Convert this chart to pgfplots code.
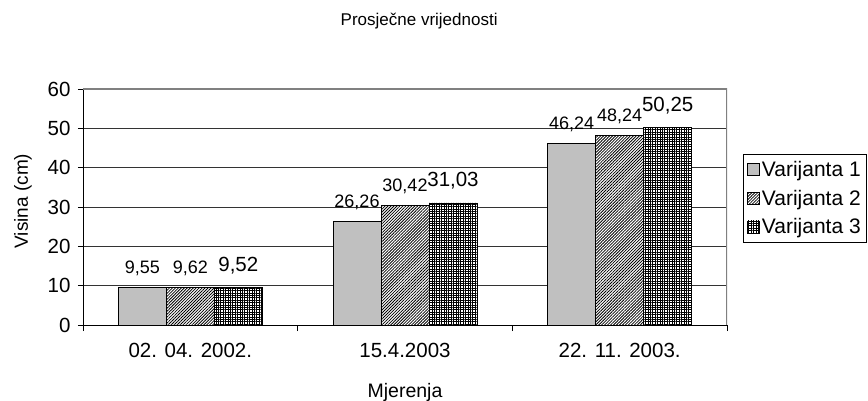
\documentclass[border=0pt]{standalone}
\usepackage{pgfplots}
\pgfplotsset{compat=1.18}
\usepackage{fontspec}
\setmainfont{Liberation Sans}
\usetikzlibrary{patterns.meta}
\definecolor{barA}{HTML}{C0C0C0}
\newcommand{\fs}[1]{\fontsize{#1bp}{#1bp}\selectfont}
\begin{document}
\begin{tikzpicture}
\begin{axis}[
  scale only axis,
  width=644bp, height=236bp,
  ybar=0pt, bar width=48bp,
  xmin=-0.5, xmax=2.5, ymin=0, ymax=60,
  xtick={0,1,2},
  xticklabels={02. 04. 2002., 15.4.2003, 22. 11. 2003.},
  major x tick style={draw=none},
  extra x ticks={-0.5,0.5,1.5,2.5},
  extra x tick labels={},
  extra x tick style={major tick length=6bp, major x tick style={draw=black}, grid=none},
  ytick={0,10,...,60},
  major tick length=5bp,
  tick align=outside,
  tick style={black, line width=0.6bp},
  ymajorgrids,
  grid style={black!80, line width=0.6bp},
  axis lines*=left,
  axis line style={black, line width=0.8bp},
  ticklabel style={font=\fs{20.5}},
  /pgf/number format/assume math mode=true,
  xticklabel style={yshift=-10bp},
  yticklabel style={xshift=-4bp},
  title={Prosječne vrijednosti},
  title style={at={(0.522,1)}, anchor=base, yshift=58bp, font=\fs{17}},
  xlabel={Mjerenja},
  xlabel style={at={(axis description cs:0.5,0)}, anchor=base, yshift=-72bp, font=\fs{19.5}},
  ylabel={Visina (cm)},
  ylabel style={at={(axis description cs:-0.0854,0.525)}, anchor=base, font=\fs{19}},
  nodes near coords={\pgfmathprintnumber[fixed,fixed zerofill,precision=2,use comma,assume math mode=true]{\pgfplotspointmeta}},
  every node near coord/.append style={font=\fs{18}, anchor=base, inner sep=0pt, yshift=14bp, black},
  legend style={at={(1.025,0.725)}, anchor=north west, draw=black, line width=0.6bp,
    font=\fs{21}, inner xsep=4bp, inner ysep=5bp, row sep=8bp},
  legend cell align=left,
  legend image code/.code={\draw[#1, line width=0.5bp] (0bp,-6bp) rectangle (12bp,6bp);},
]
\addplot[draw=black, line width=0.8bp, fill=barA] coordinates {(0,9.55) (1,26.26) (2,46.24)};
\addplot[draw=black, line width=0.8bp, fill=white, postaction={pattern={Lines[angle=45,distance=2.1bp,line width=0.8bp]}}] coordinates {(0,9.62) (1,30.42) (2,48.24)};
\addplot[draw=black, line width=0.8bp, fill=white, postaction={pattern={Hatch[angle=0,distance=2.4bp,line width=0.85bp]}},
  every node near coord/.append style={font=\fs{20.5}, yshift=2bp}] coordinates {(0,9.52) (1,31.03) (2,50.25)};
\legend{Varijanta 1, Varijanta 2, Varijanta 3}
\draw[gray, line width=1.2bp] (rel axis cs:0,1) -- (rel axis cs:1,1) -- (rel axis cs:1,0);
\coordinate (bl) at (rel axis cs:0,0);
\coordinate (tr) at (rel axis cs:1,1);
\end{axis}
\pgfresetboundingbox
\path ([shift={(-83bp,-76bp)}]bl) rectangle ([shift={(141bp,89bp)}]tr);
\end{tikzpicture}
\end{document}
